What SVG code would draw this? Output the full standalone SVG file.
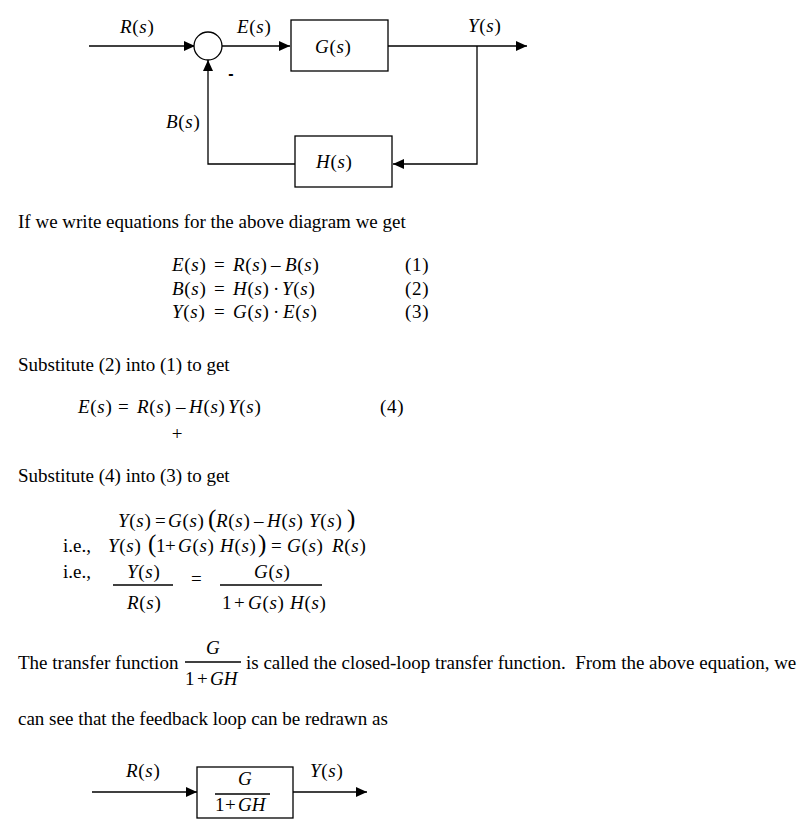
<svg xmlns="http://www.w3.org/2000/svg" width="807" height="830" viewBox="0 0 807 830">
<defs>
<style>
.t{font-family:"Liberation Serif","Times New Roman",serif;font-size:19px;fill:#000}
.m{letter-spacing:0.7px}
.i{font-style:italic}
.big{font-size:25px;letter-spacing:0}
.ln{stroke:#000;stroke-width:1.3;fill:none}
.box{fill:#fff;stroke:#000;stroke-width:1.3}
</style>
<marker id="ah" viewBox="0 0 11 10" refX="11" refY="5" markerWidth="11" markerHeight="10" markerUnits="userSpaceOnUse" orient="auto"><path d="M0,0 L11,5 L0,10 z" fill="#000"/></marker>
</defs>
<rect width="807" height="830" fill="#fff"/>

<g id="connectors">
<path class="ln" d="M89,46 H195" marker-end="url(#ah)"/>
<path class="ln" d="M222,46 H290" marker-end="url(#ah)"/>
<path class="ln" d="M388,46 H527" marker-end="url(#ah)"/>
<path class="ln" d="M477,46 V164 H393" marker-end="url(#ah)"/>
<path class="ln" d="M295,164 H208 V60" marker-end="url(#ah)"/>
<path class="ln" d="M92,792 H197" marker-end="url(#ah)"/>
<path class="ln" d="M293,792 H367" marker-end="url(#ah)"/>
</g>

<g id="labels">
<text class="t m" x="120" y="33"><tspan class="i">R</tspan>(<tspan class="i">s</tspan>)</text>
<text class="t m" x="237" y="33"><tspan class="i">E</tspan>(<tspan class="i">s</tspan>)</text>
<text class="t m" x="468" y="32"><tspan class="i">Y</tspan>(<tspan class="i">s</tspan>)</text>
<text class="t m" x="166" y="128"><tspan class="i">B</tspan>(<tspan class="i">s</tspan>)</text>
<text x="231" y="79" text-anchor="middle" font-family="Liberation Sans, Arial, sans-serif" font-size="16" font-weight="bold">-</text>
</g>

<g id="sum">
<circle cx="208" cy="46" r="14" class="box"/>
</g>

<g id="G">
<rect class="box" x="291" y="20" width="97" height="51"/>
<text class="t m" x="315" y="53"><tspan class="i">G</tspan>(<tspan class="i">s</tspan>)</text>
</g>

<g id="H">
<rect class="box" x="295" y="136" width="97" height="51"/>
<text class="t m" x="316" y="168"><tspan class="i">H</tspan>(<tspan class="i">s</tspan>)</text>
</g>

<text class="t" x="18" y="228">If we write equations for the above diagram we get</text>

<text class="t m" y="271"><tspan x="172" class="i">E</tspan>(<tspan class="i">s</tspan>)<tspan x="214">=</tspan><tspan x="233" class="i">R</tspan>(<tspan class="i">s</tspan>)<tspan x="271">–</tspan><tspan x="285" class="i">B</tspan>(<tspan class="i">s</tspan>)<tspan x="405">(1)</tspan></text>
<text class="t m" y="295"><tspan x="172" class="i">B</tspan>(<tspan class="i">s</tspan>)<tspan x="214">=</tspan><tspan x="233" class="i">H</tspan>(<tspan class="i">s</tspan>)<tspan x="273">·</tspan><tspan x="282" class="i">Y</tspan>(<tspan class="i">s</tspan>)<tspan x="405">(2)</tspan></text>
<text class="t m" y="318"><tspan x="172" class="i">Y</tspan>(<tspan class="i">s</tspan>)<tspan x="214">=</tspan><tspan x="233" class="i">G</tspan>(<tspan class="i">s</tspan>)<tspan x="273">·</tspan><tspan x="283" class="i">E</tspan>(<tspan class="i">s</tspan>)<tspan x="405">(3)</tspan></text>

<text class="t" x="18" y="371">Substitute (2) into (1) to get</text>

<text class="t m" y="413"><tspan x="78" class="i">E</tspan>(<tspan class="i">s</tspan>)<tspan x="118">=</tspan><tspan x="137" class="i">R</tspan>(<tspan class="i">s</tspan>)<tspan x="176">–</tspan><tspan x="189" class="i">H</tspan>(<tspan class="i">s</tspan>)<tspan x="228" class="i">Y</tspan>(<tspan class="i">s</tspan>)<tspan x="380">(4)</tspan></text>
<text class="t" x="177" y="440" text-anchor="middle">+</text>

<text class="t" x="18" y="482">Substitute (4) into (3) to get</text>

<text class="t m" y="527"><tspan x="118" class="i">Y</tspan>(<tspan class="i">s</tspan>)<tspan x="155">=</tspan><tspan x="168" class="i">G</tspan>(<tspan class="i">s</tspan>)<tspan x="208" class="big">(</tspan><tspan x="216" class="i">R</tspan>(<tspan class="i">s</tspan>)<tspan x="254">–</tspan><tspan x="267" class="i">H</tspan>(<tspan class="i">s</tspan>)<tspan x="309" class="i">Y</tspan>(<tspan class="i">s</tspan>)<tspan x="347" class="big">)</tspan></text>

<text class="t m" y="552"><tspan x="63" style="letter-spacing:0">i.e.,</tspan><tspan x="108" class="i">Y</tspan>(<tspan class="i">s</tspan>)<tspan x="148" class="big">(</tspan><tspan x="156">1</tspan><tspan x="165">+</tspan><tspan x="178" class="i">G</tspan>(<tspan class="i">s</tspan>)<tspan x="220" class="i">H</tspan>(<tspan class="i">s</tspan>)<tspan x="258" class="big">)</tspan><tspan x="271">=</tspan><tspan x="287" class="i">G</tspan>(<tspan class="i">s</tspan>)<tspan x="332" class="i">R</tspan>(<tspan class="i">s</tspan>)</text>

<text class="t" x="63" y="578">i.e.,</text>
<text class="t m" x="127" y="578"><tspan class="i">Y</tspan>(<tspan class="i">s</tspan>)</text>
<line class="ln" x1="113" y1="585" x2="173" y2="585"/>
<text class="t m" x="127" y="609"><tspan class="i">R</tspan>(<tspan class="i">s</tspan>)</text>
<text class="t" x="191" y="585">=</text>
<text class="t m" x="254" y="578"><tspan class="i">G</tspan>(<tspan class="i">s</tspan>)</text>
<line class="ln" x1="220" y1="585" x2="322" y2="585"/>
<text class="t m" y="609"><tspan x="222">1</tspan><tspan x="234">+</tspan><tspan x="248" class="i">G</tspan>(<tspan class="i">s</tspan>)<tspan x="290" class="i">H</tspan>(<tspan class="i">s</tspan>)</text>

<text class="t" x="18" y="669">The transfer function</text>
<text class="t i" x="206" y="654">G</text>
<line class="ln" x1="185" y1="662" x2="241" y2="662"/>
<text class="t" y="685"><tspan x="185">1</tspan><tspan x="197">+</tspan><tspan x="210" class="i">GH</tspan></text>
<text class="t" x="246" y="669" xml:space="preserve">is called the closed-loop transfer function.  From the above equation, we</text>

<text class="t" x="18" y="725">can see that the feedback loop can be redrawn as</text>

<g id="labels2">
<text class="t m" x="126" y="777"><tspan class="i">R</tspan>(<tspan class="i">s</tspan>)</text>
<text class="t m" x="310" y="777"><tspan class="i">Y</tspan>(<tspan class="i">s</tspan>)</text>
</g>

<g id="closedloop">
<rect class="box" x="197" y="767" width="96" height="51"/>
<text class="t i" x="238" y="785">G</text>
<line class="ln" x1="215" y1="794" x2="270" y2="794"/>
<text class="t" y="811"><tspan x="215">1</tspan><tspan x="225">+</tspan><tspan x="238" class="i">GH</tspan></text>
</g>
</svg>
